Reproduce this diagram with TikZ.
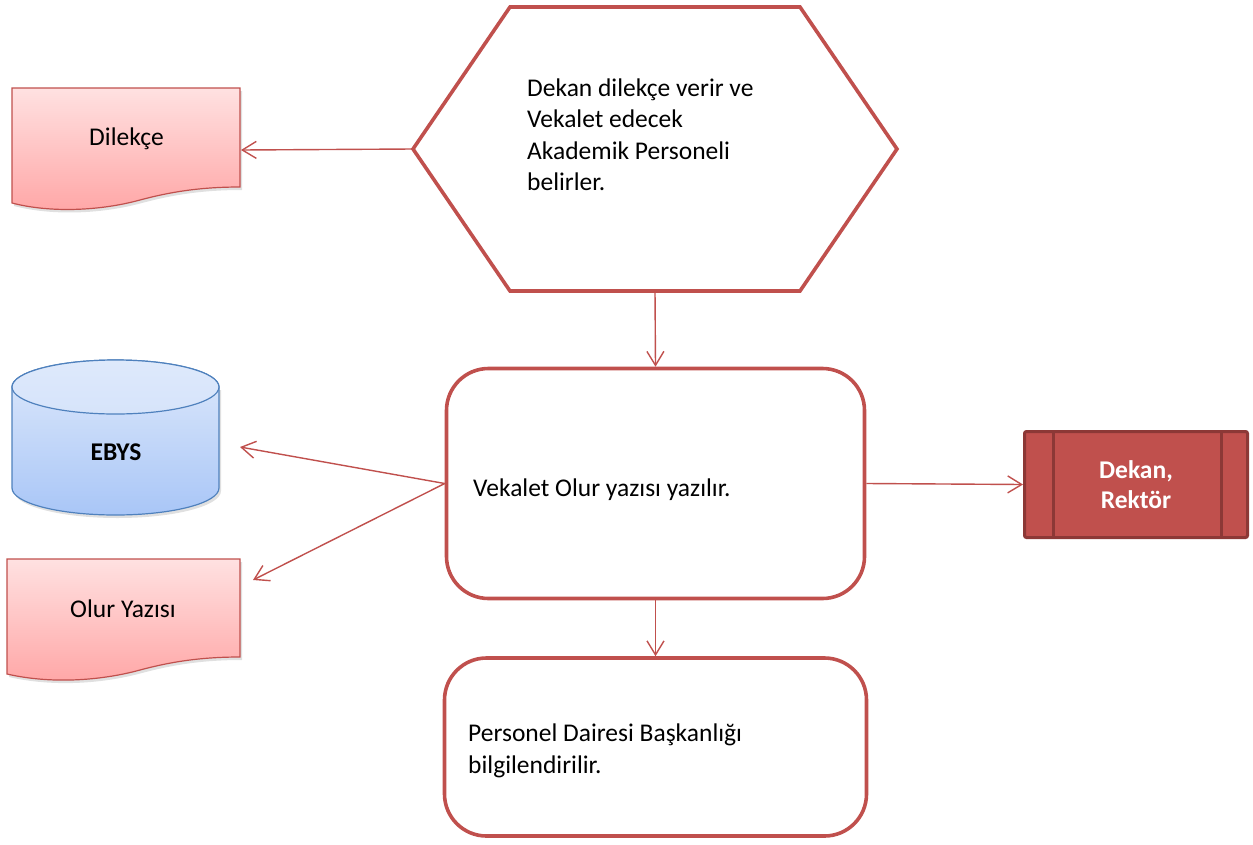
\documentclass[tikz,border=0pt]{standalone}
\usepackage{fontspec}
\setmainfont{Carlito}
\usetikzlibrary{arrows.meta,calc}

\definecolor{accent}{HTML}{C0504D}
\definecolor{accentdark}{HTML}{8C3836}
\definecolor{docTop}{HTML}{FFE1E1}
\definecolor{docBottom}{HTML}{FFA6A6}
\definecolor{dbTop}{HTML}{DEE9FB}
\definecolor{dbBottom}{HTML}{A9C6F7}
\definecolor{dbLine}{HTML}{4F81BD}

\begin{document}
\begin{tikzpicture}[x=1pt,y=-1pt,
  txt/.style={font=\fontsize{25.5}{31.5}\selectfont, inner sep=0pt, align=left},
  boldtxt/.style={font=\fontsize{25.5}{30}\selectfont\bfseries, inner sep=0pt, align=center},
  frame/.style={inner sep=0pt, outer sep=0pt},
  stepbox/.style={draw=accent, line width=3.6pt, rounded corners=42pt, inner sep=0pt},
  flow/.style={draw=accent, line width=1.4pt, -{Straight Barb[length=14pt,width=17pt]}},
  docfill/.style={top color=docTop, bottom color=docBottom},
  docline/.style={draw=accent, line width=1.2pt},
  shadow/.style={fill=black, opacity=0.12},
]
\useasboundingbox (0,0) rectangle (1253,844);

% --- decision hexagon -------------------------------------------------
\node[frame, minimum width=484pt, minimum height=284pt] (hex) at (655,149) {};
\draw[accent, line width=3.6pt, line join=miter]
  (hex.west) -- ($(hex.north west)+(97,0)$) -- ($(hex.north east)+(-97,0)$)
  -- (hex.east) -- ($(hex.south east)+(-97,0)$) -- ($(hex.south west)+(97,0)$) -- cycle;
\node[txt, anchor=west] (hextxt) at (527,134.5)
  {Dekan dilekçe verir ve\\Vekalet edecek\\Akademik Personeli\\belirler.};

% --- process boxes ----------------------------------------------------
\node[stepbox, minimum width=418pt, minimum height=230pt] (olur) at (655.5,483.5) {};
\node[txt, anchor=west] (olurtxt) at (473,490) {Vekalet Olur yazısı yazılır.};

\node[stepbox, minimum width=422pt, minimum height=178pt] (pdb) at (655.5,747) {};
\node[txt, anchor=west] (pdbtxt) at (468,751)
  {Personel Dairesi Başkanlığı\\bilgilendirilir.};

% --- predefined process -----------------------------------------------
\node[draw=accentdark, fill=accent, line width=3pt, rounded corners=2pt,
      minimum width=223pt, minimum height=106pt, inner sep=0pt] (dekan) at (1136,484.5) {};
\draw[accentdark, line width=3pt]
  ($(dekan.north west)+(30,0)$) -- ($(dekan.south west)+(30,0)$);
\draw[accentdark, line width=3pt]
  ($(dekan.north east)+(-28,0)$) -- ($(dekan.south east)+(-28,0)$);
\node[boldtxt, text=white] (dekantxt) at (1136,485) {Dekan,\\Rektör};

% --- document: Dilekçe ------------------------------------------------
\node[frame, minimum width=228pt, minimum height=99pt] (dil) at (126,137.5) {};
\fill[shadow] (14,91) -- (242,91) -- (242,190)
  .. controls (202,190) and (172,195) .. (142,203)
  .. controls (102,214) and (52,216) .. (14,206) -- cycle;
\shade[docfill] (12,88) -- (240,88) -- (240,187)
  .. controls (200,187) and (170,192) .. (140,200)
  .. controls (100,211) and (50,213) .. (12,203) -- cycle;
\draw[docline] (12,88) -- (240,88) -- (240,187)
  .. controls (200,187) and (170,192) .. (140,200)
  .. controls (100,211) and (50,213) .. (12,203) -- cycle;
\node[txt] (diltxt) at (126.5,139) {Dilekçe};

% --- document: Olur Yazısı --------------------------------------------
\node[frame, minimum width=233pt, minimum height=98pt] (olurdoc) at (123.5,608) {};
\fill[shadow] (9,562) -- (242,562) -- (242,660)
  .. controls (202,660) and (172,665) .. (142,673)
  .. controls (102,684) and (52,687) .. (9,677) -- cycle;
\shade[docfill] (7,559) -- (240,559) -- (240,657)
  .. controls (200,657) and (170,662) .. (140,670)
  .. controls (100,681) and (50,684) .. (7,674) -- cycle;
\draw[docline] (7,559) -- (240,559) -- (240,657)
  .. controls (200,657) and (170,662) .. (140,670)
  .. controls (100,681) and (50,684) .. (7,674) -- cycle;
\node[txt] (olurdoctxt) at (123,609) {Olur Yazısı};

% --- database cylinder: EBYS ------------------------------------------
\node[frame, minimum width=207pt, minimum height=156pt] (ebys) at (115.5,437) {};
\fill[shadow]
  (14,390) -- (14,491) arc[start angle=180, end angle=360, x radius=103.5pt, y radius=27pt]
  -- (221,390) -- cycle;
\shade[top color=dbTop, bottom color=dbBottom]
  (12,387) -- (12,488) arc[start angle=180, end angle=360, x radius=103.5pt, y radius=27pt]
  -- (219,387) arc[start angle=0, end angle=180, x radius=103.5pt, y radius=27pt] -- cycle;
\draw[dbLine, line width=1.2pt]
  (12,387) -- (12,488) arc[start angle=180, end angle=360, x radius=103.5pt, y radius=27pt]
  -- (219,387) arc[start angle=0, end angle=180, x radius=103.5pt, y radius=27pt] -- cycle;
\shade[top color=dbTop, bottom color=dbTop!85!dbBottom]
  (115.5,387) ellipse[x radius=103.5pt, y radius=27pt];
\draw[dbLine, line width=1.2pt] (115.5,387) ellipse[x radius=103.5pt, y radius=27pt];
\node[boldtxt] (ebystxt) at (116,452.5) {EBYS};

% --- free ends of the outgoing connectors -----------------------------
\coordinate (dilin) at (241,150);
\coordinate (ebysin) at (240,447);
\coordinate (olurdocin) at (253,580);

% --- connectors -------------------------------------------------------
\draw[flow] (hex.west) -- (dilin);
\draw[flow] (hex.south) -- (olur.north);
\draw[flow] (olur.west) -- (ebysin);
\draw[flow] (olur.west) -- (olurdocin);
\draw[flow] (olur.east) -- (dekan.west);
\draw[flow] (olur.south) -- (pdb.north);
\end{tikzpicture}
\end{document}
